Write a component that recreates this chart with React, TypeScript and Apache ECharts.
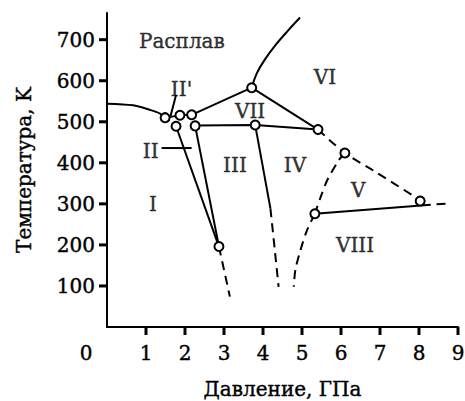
import React, { useEffect, useRef } from "react";
import * as echarts from "echarts";

// Axis ticks
const xTicks = [1, 2, 3, 4, 5, 6, 7, 8, 9];
const yTicks = [100, 200, 300, 400, 500, 600, 700];
const originLabel = "0";
const xTitle = "Давление, ГПа";
const yTitle = "Температура, K";

// Phase boundaries (pressure GPa, temperature K)
const meltCurve = [[0, 544], [0.67, 540], [1.1, 529], [1.36, 520], [1.49, 510], [1.87, 516], [2.17, 517]];
const lineCF = [[2.17, 517], [3.71, 583]];
const curveFTop = [[3.71, 583], [3.84, 618], [4.05, 652], [4.33, 688], [4.63, 721], [4.95, 754]];
const lineFH = [[3.71, 583], [5.41, 481]];
const lineEGH = [[2.26, 491], [3.8, 492], [5.41, 481]];
const lineDL = [[1.77, 489], [2.87, 196]];
const lineEL = [[2.26, 490], [2.87, 196]];
const dashL = [[2.87, 196], [3.15, 74]];
const lineGdown = [[3.8, 492], [4.19, 289]];
const dashGdown = [[4.19, 289], [4.3, 190], [4.4, 98]];
const dashHIJ = [[5.41, 481], [6.1, 424], [6.85, 380], [8.03, 309]];
const dashIK = [[6.1, 424], [5.94, 406], [5.65, 358], [5.48, 317], [5.33, 276]];
const dashKdown = [[5.33, 276], [5.13, 236], [4.96, 187], [4.83, 139], [4.79, 98]];
const lineKJ = [[5.33, 276], [8.3, 298]];
const dashJright = [[8.45, 299], [8.8, 301]];
const leaderII1 = [[1.77, 565], [1.63, 514]];
const leaderII = [[1.4, 436], [2.17, 436]];

// Triple points
const triplePoints = [
  [1.49, 510], [1.87, 516], [2.17, 517], [1.77, 489], [2.26, 490],
  [3.71, 583], [3.8, 492], [5.41, 481], [6.1, 424], [8.03, 307],
  [5.33, 276], [2.87, 196],
];

// Region labels
const regionNames = ["Расплав", "II'", "II", "I", "III", "IV", "VII", "VI", "V", "VIII"];
const regionPos = [
  [1.92, 698], [1.91, 581], [1.12, 430], [1.18, 299], [3.28, 394],
  [4.82, 394], [3.67, 527], [5.59, 610], [6.44, 333], [6.36, 200],
];

const FONT = "DejaVu Serif";
const FS = 20;
const TICK_LEN = 8;
const textWeight = { textBorderColor: "#000", textBorderWidth: 0.4 };

function solid(data: number[][], smooth: number | boolean = false) {
  return {
    type: "line",
    data,
    showSymbol: false,
    smooth,
    silent: true,
    lineStyle: { color: "#000", width: 2 },
    z: 2,
  };
}
function dashed(data: number[][], smooth: number | boolean = false) {
  return {
    type: "line",
    data,
    showSymbol: false,
    smooth,
    silent: true,
    lineStyle: { color: "#000", width: 2, type: [9, 6] },
    z: 2,
  };
}

export default function App() {
  const ref = useRef<HTMLDivElement>(null);
  useEffect(() => {
    if (!ref.current) return;
    const chart = echarts.init(ref.current, undefined, { renderer: "svg" });
    chart.setOption({
      animation: false,
      backgroundColor: "#fff",
      grid: { left: 107, right: 7, top: 13, bottom: 74, containLabel: false, outerBoundsMode: "none" },
      xAxis: {
        type: "value",
        min: 0,
        max: 9,
        name: xTitle,
        nameLocation: "middle",
        nameGap: 52,
        nameTextStyle: { fontFamily: FONT, fontSize: FS, color: "#000", ...textWeight },
        axisLine: { show: true, onZero: false, lineStyle: { color: "#000", width: 2 } },
        axisTick: { show: false },
        axisLabel: { customValues: xTicks, margin: 16, fontFamily: FONT, fontSize: FS, color: "#000", ...textWeight },
        splitLine: { show: false },
      },
      yAxis: {
        type: "value",
        min: 0,
        max: 765,
        name: yTitle,
        nameLocation: "middle",
        nameGap: 73,
        nameRotate: 90,
        nameTextStyle: { fontFamily: FONT, fontSize: FS, color: "#000", ...textWeight },
        axisLine: { show: true, onZero: false, lineStyle: { color: "#000", width: 2 } },
        axisTick: { show: false },
        axisLabel: { customValues: yTicks, margin: 12, fontFamily: FONT, fontSize: FS, color: "#000", ...textWeight },
        splitLine: { show: false },
      },
      series: [
        solid(meltCurve, 0.3),
        solid(lineCF),
        solid(curveFTop, 0.4),
        solid(lineFH),
        solid(lineEGH),
        solid(lineDL),
        solid(lineEL),
        dashed(dashL),
        solid(lineGdown),
        dashed(dashGdown, 0.3),
        dashed(dashHIJ, 0.3),
        dashed(dashIK, 0.3),
        dashed(dashKdown, 0.3),
        solid(lineKJ),
        dashed(dashJright),
        solid(leaderII1),
        solid(leaderII),
        {
          type: "custom",
          clip: false,
          silent: true,
          data: xTicks.map((v) => [v, 0]),
          renderItem: (_params: any, api: any) => {
            const p = api.coord([api.value(0), api.value(1)]);
            return {
              type: "rect",
              shape: { x: p[0] - 1.5, y: p[1], width: 3, height: TICK_LEN },
              style: { fill: "#000" },
            };
          },
          z: 4,
        },
        {
          type: "custom",
          clip: false,
          silent: true,
          data: yTicks.map((v) => [0, v]),
          renderItem: (_params: any, api: any) => {
            const p = api.coord([api.value(0), api.value(1)]);
            return {
              type: "rect",
              shape: { x: p[0] - TICK_LEN, y: p[1] - 1.5, width: TICK_LEN, height: 3 },
              style: { fill: "#000" },
            };
          },
          z: 4,
        },
        {
          type: "custom",
          clip: false,
          silent: true,
          data: [[0, 0]],
          renderItem: (_params: any, api: any) => {
            const p = api.coord([api.value(0), api.value(1)]);
            return {
              type: "text",
              x: p[0] - 21,
              y: p[1] + 26,
              style: {
                text: originLabel,
                font: `${FS}px "${FONT}"`,
                fill: "#000",
                stroke: "#000",
                lineWidth: 0.4,
                align: "center",
                verticalAlign: "middle",
              },
            };
          },
          z: 4,
        },
        {
          type: "scatter",
          data: triplePoints,
          symbol: "circle",
          symbolSize: 9,
          silent: true,
          itemStyle: { color: "#fff", borderColor: "#000", borderWidth: 2, opacity: 1 },
          z: 5,
        },
        {
          type: "scatter",
          data: regionNames.map((n, i) => ({ name: n, value: regionPos[i] })),
          symbolSize: 0,
          silent: true,
          label: {
            show: true,
            position: "inside",
            formatter: (p: any) => p.name,
            fontFamily: FONT,
            fontSize: FS,
            color: "#000",
            ...textWeight,
          },
          z: 6,
        },
      ],
    });

    return () => chart.dispose();
  }, []);
  return <div ref={ref} style={{ position: "fixed", left: 0, top: 0, width: 465, height: 401 }} />;
}
